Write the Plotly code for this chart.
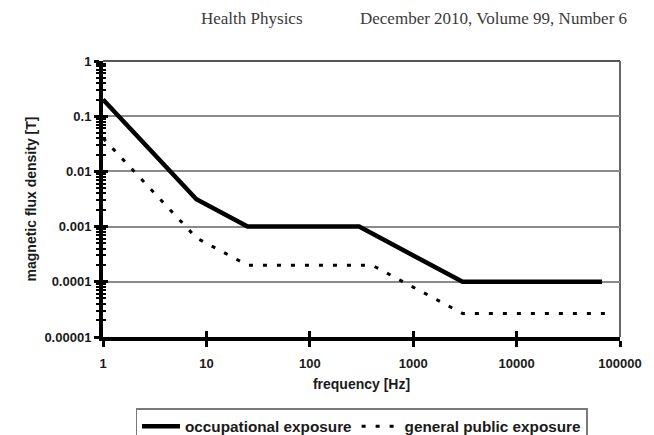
import plotly.graph_objects as go

# Data (ICNIRP 2010 reference levels)
occ_freq = [1, 8, 25, 300, 3000, 67000]
occ_flux = [0.2, 0.003125, 0.001, 0.001, 0.0001, 0.0001]
pub_freq = [1, 8, 25, 400, 3000, 75000]
pub_flux = [0.04, 0.000625, 0.0002, 0.0002, 0.0000267, 0.0000267]

x_tickvals = [1, 10, 100, 1000, 10000, 100000]
x_ticktext = ["1", "10", "100", "1000", "10000", "100000"]
y_tickvals = [1, 0.1, 0.01, 0.001, 0.0001, 0.00001]
y_ticktext = ["1", "0.1", "0.01", "0.001", "0.0001", "0.00001"]

FONT = "Liberation Sans, Arial, sans-serif"
TXT = "#1a1a1a"

fig = go.Figure()
fig.add_trace(go.Scatter(x=occ_freq, y=occ_flux, mode="lines", name="occupational exposure",
                         line=dict(color="black", width=4.5)))
fig.add_trace(go.Scatter(x=pub_freq, y=pub_flux, mode="lines", name="general public exposure",
                         line=dict(color="black", width=3, dash="4px,10px"),
                         xaxis="x2", yaxis="y2"))

fig.update_layout(
    width=654, height=435,
    margin=dict(l=103, r=34, t=61, b=98, autoexpand=False),
    paper_bgcolor="white", plot_bgcolor="white",
    font=dict(family=FONT, size=14, color=TXT),
    showlegend=True,
    legend=dict(orientation="h", x=0.5, xanchor="center", y=-0.258, yanchor="top",
                bordercolor="#7a7a7a", borderwidth=1.5,
                font=dict(family=FONT, size=15.3, color=TXT, weight="bold"),
                itemwidth=38, tracegroupgap=0),
    xaxis=dict(type="log", range=[0, 5], tickvals=x_tickvals, ticktext=x_ticktext,
               showline=True, linecolor="black", linewidth=4,
               ticks="outside", ticklen=6, tickwidth=3, tickcolor="black",
               ticklabelstandoff=5,
               showgrid=False, zeroline=False,
               tickfont=dict(family=FONT, size=13, color=TXT, weight="bold"),
               title=dict(text="frequency [Hz]", standoff=11,
                          font=dict(family=FONT, size=14, color=TXT, weight="bold"))),
    yaxis=dict(type="log", range=[-5, 0], tickvals=y_tickvals, ticktext=y_ticktext,
               showline=True, linecolor="black", linewidth=4,
               ticks="outside", ticklen=5, tickwidth=3, tickcolor="black",
               minor=dict(ticks="outside", ticklen=3, tickwidth=2, tickcolor="black",
                          dtick="D1", showgrid=False),
               showgrid=True, gridcolor="#8a8a8a", gridwidth=1.5, zeroline=False,
               tickfont=dict(family=FONT, size=13, color=TXT, weight="bold"),
               title=dict(text="magnetic flux density [T]", standoff=6,
                          font=dict(family=FONT, size=14, color=TXT, weight="bold"))),
    xaxis2=dict(type="log", range=[0, 5], overlaying="x", anchor="y2",
                tickvals=x_tickvals, showticklabels=False,
                ticks="inside", ticklen=6, tickwidth=3, tickcolor="black",
                showgrid=False, zeroline=False, showline=False),
    yaxis2=dict(type="log", range=[-5, 0], overlaying="y", anchor="x2",
                tickvals=y_tickvals, showticklabels=False,
                ticks="inside", ticklen=5, tickwidth=3, tickcolor="black",
                minor=dict(ticks="inside", ticklen=3, tickwidth=2, tickcolor="black",
                           dtick="D1", showgrid=False),
                showgrid=False, zeroline=False, showline=False),
    shapes=[
        dict(type="line", xref="paper", yref="paper", x0=0, x1=1, y0=1, y1=1,
             line=dict(color="#555555", width=2), layer="below"),
        dict(type="line", xref="paper", yref="paper", x0=1, x1=1, y0=0, y1=1,
             line=dict(color="#666666", width=2), layer="below"),
    ],
    annotations=[
        dict(text="Health Physics", xref="paper", yref="paper", x=0.288, y=1.155,
             xanchor="center", yanchor="middle", showarrow=False,
             font=dict(family="Liberation Serif, Times New Roman, serif", size=17, color="#3a3a3a")),
        dict(text="December 2010, Volume 99, Number 6", xref="paper", yref="paper",
             x=0.755, y=1.155, xanchor="center", yanchor="middle", showarrow=False,
             font=dict(family="Liberation Serif, Times New Roman, serif", size=17, color="#3a3a3a")),
    ],
)

fig.write_html("out.html", config={"displayModeBar": False},
               post_script="document.body.style.margin='0';document.body.style.overflow='hidden';")
